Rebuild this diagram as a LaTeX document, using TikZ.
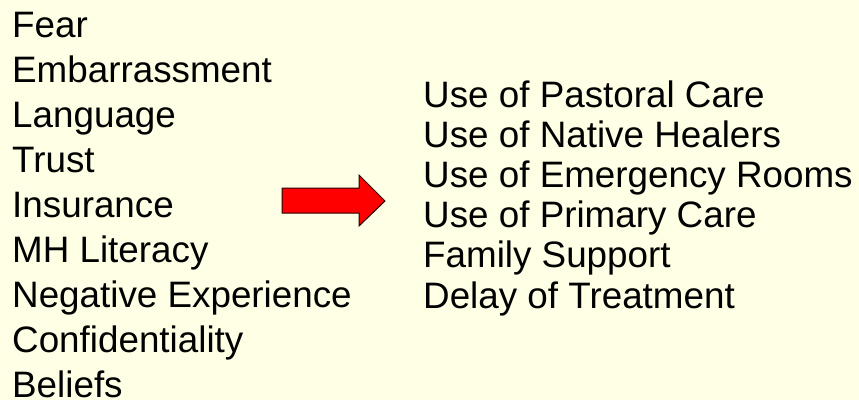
\documentclass[tikz,border=0pt]{standalone}
\usepackage{fontspec}
\setmainfont{Liberation Sans}
\definecolor{bgyellow}{RGB}{255,255,229}
\definecolor{arrowred}{RGB}{255,0,0}
\begin{document}
\begin{tikzpicture}[x=1pt,y=-1pt,
  item/.style={anchor=base west,inner sep=0pt,font=\fontsize{36.8}{44}\selectfont,text=black},
  bigarrow/.style={fill=arrowred,draw=black!85!red,line width=1pt,line join=miter}]
\fill[bgyellow] (0,0) rectangle (859,400);
\useasboundingbox (0,0) rectangle (859,400);
% left column
\node[item] (l1) at (12,37) {Fear};
\node[item] (l2) at (12,82) {Embarrassment};
\node[item] (l3) at (12,127) {Language};
\node[item] (l4) at (12,172) {Trust};
\node[item] (l5) at (12,217) {Insurance};
\node[item] (l6) at (12,262) {MH Literacy};
\node[item] (l7) at (12,307) {Negative Experience};
\node[item] (l8) at (12,352) {Confidentiality};
\node[item] (l9) at (12,397) {Beliefs};
% right column
\node[item] (r1) at (423,107) {Use of Pastoral Care};
\node[item] (r2) at (423,147.2) {Use of Native Healers};
\node[item] (r3) at (423,187.4) {Use of Emergency Rooms};
\node[item] (r4) at (423,227.6) {Use of Primary Care};
\node[item] (r5) at (423,267.8) {Family Support};
\node[item] (r6) at (423,308) {Delay of Treatment};
% block arrow
\draw[bigarrow] (282,188) -- (359,188) -- (359,175) -- (385,201) -- (359,226) -- (359,213) -- (282,213) -- cycle;
\end{tikzpicture}
\end{document}
